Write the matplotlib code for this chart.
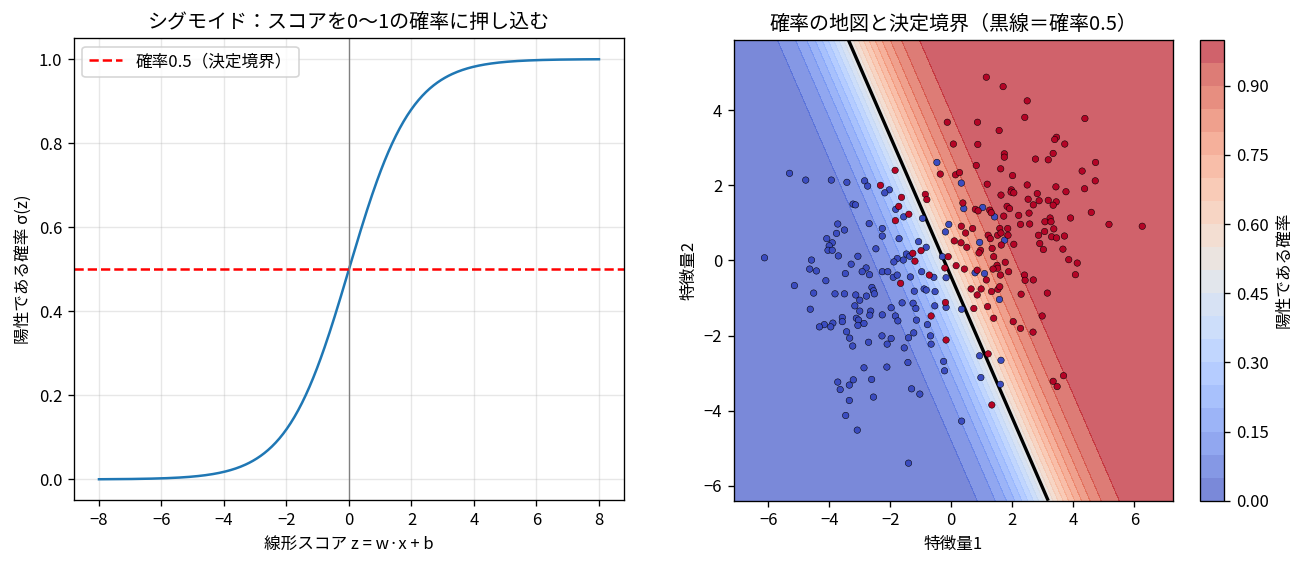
import numpy as np
import matplotlib
matplotlib.use("Agg")
import matplotlib.pyplot as plt

plt.rcParams['font.family'] = ['Noto Sans CJK JP', 'DejaVu Sans']

# ---- sigmoid panel ----
z_min, z_max = -8, 8
threshold = 0.5

# ---- logistic model ----
w1, w2, b0 = 1.265, 0.675, 0.30
levels = np.linspace(0, 1, 21)

# ---- class 0 (negative) points ----
neg_x = [-5.30, -4.77, -3.93, -3.42, -2.84, -2.74, -0.47, 0.33, -2.03, -2.18,
         -3.22, -3.14, -3.72, -2.69, -3.50, -3.76, -4.08, -3.90, -4.00, -4.04, -3.90, -2.26, -2.26, -2.47,
         -3.70, -3.06, -6.12, -4.58, -3.28, -4.64, -4.42, -2.79, -2.92, -3.47, -2.68, -2.26, -4.11, -5.14,
         -2.60, -2.55, -2.52, -4.51, -3.81, -3.50, -3.13, -2.78, -3.00, -3.16, -4.62, -3.00, -2.64, -2.67,
         -2.26, -3.57, -3.11, -3.04, -3.57, -3.88, -2.86, -4.16, -4.32, -3.95, -3.06, -3.43, -2.27, -3.33,
         -2.71, -3.23,
         -2.86, -3.72, -3.21, -2.61, -3.34, -3.64, -2.55, -3.34, -3.46, -3.08,
         -2.11, -1.54, -1.42, -0.66, -0.25, -0.22, -1.30, -1.03, 0.93, 1.63, 0.97, 1.61, 0.34, -1.40,
         -1.82, -1.56, -0.94, -1.71, -1.07, -0.82, -1.77, -1.88, -1.57, -1.47, -1.36, -0.29, -2.08, -1.90,
         -1.77, -1.34, -0.97, -0.57, -0.17, -1.21, -0.89, -0.82, -0.53, -1.61, -1.25, -1.16, -1.97, -0.17,
         -0.54, 0.34, -1.83, -1.75, -1.14, -0.78, -1.97, -1.40, -1.23, -0.68, -2.10,
         0.41, 1.03, 1.42, -0.08, -0.19, 0.93, 1.75, 0.78, 1.09, 1.58]
neg_y = [2.32, 2.14, 2.14, 2.08, 2.12, 1.98, 2.61, 2.06, 1.88, 1.80,
         1.50, 1.48, 0.97, 0.98, 0.81, 0.72, 0.58, 0.47, 0.39, 0.27, 0.27, 0.85, 0.65, 0.31,
         0.12, 0.11, 0.07, 0.01, -0.10, -0.23, -0.28, -0.20, -0.30, -0.35, -0.38, -0.30, -0.54, -0.67,
         -0.72, -0.81, -0.89, -0.87, -0.89, -0.89, -0.92, -0.95, -1.06, -1.21, -1.30, -1.35, -1.35, -1.46,
         -1.45, -1.52, -1.54, -1.59, -1.63, -1.67, -1.68, -1.71, -1.77, -1.77, -1.73, -1.90, -2.01, -2.07,
         -2.18, -2.28,
         -2.86, -3.24, -3.18, -3.17, -3.32, -3.44, -3.64, -3.73, -4.13, -4.52,
         -2.84, -2.33, -2.72, -2.23, -2.69, -2.94, -3.42, -3.56, -2.54, -2.66, -3.12, -3.30, -4.28, -5.40,
         1.36, 1.16, 1.12, 0.58, 0.50, 0.35, 0.05, -0.04, 0.01, 0.17, 0.11, 0.10, -0.30, -0.45,
         -0.39, -0.44, -0.30, -0.45, -0.46, -0.82, -0.76, -0.79, -0.83, -1.13, -1.14, -1.28, -1.26, -1.25,
         -1.21, -1.30, -1.48, -1.61, -1.59, -1.71, -2.08, -2.06, -1.93, -2.01, -2.23,
         1.38, 1.41, 1.16, 0.96, 0.76, 0.48, 0.54, -0.33, -0.35, -1.04]

# ---- class 1 (positive) points ----
pos_x = [-2.32,
         1.15, 1.70, 2.49, 2.41, -0.13, 0.86, 1.57, 0.07, 0.87, 1.74, 1.74, 0.82, 1.62, 2.01, -0.36, 0.14,
         0.27, 1.18, 2.49, 1.97, -1.84,
         4.38, 3.45, 3.39, 3.72, 3.34, 2.76, 3.18, 4.73, 4.29, 4.72, 3.43, 4.37, 3.76, 2.82,
         2.52, 2.88, 3.18, 3.44, 2.69, 3.34, 4.59, 2.55, 3.91, 3.24, 3.07, 3.27, 2.57, 5.17, 6.26, 3.36,
         3.06, 2.86, 3.71, 3.29, 3.45, 2.90, 3.02, 3.66, 3.85, 4.13, 4.07, 2.40, 2.42, 2.69, 3.15, 2.98, 2.68,
         3.68, 3.34, 3.47, 1.21, 1.33,
         -1.63, -0.85, -0.80, -1.72, -1.39, -1.83, -0.99, -1.26, -1.19, -0.10, -1.66, -0.72, -0.19, -0.66, -0.17,
         0.38, 0.79, 0.88, 1.26, 1.31, 1.63, 1.96, 2.05, 1.83, 1.91, 1.72, 2.21, 2.27, 0.33, 0.47, 0.70,
         0.10, 0.32, 0.51, 1.21, 1.28, 1.52, 1.59, 1.63, 1.85, 1.86, 0.96, 0.91, 1.34, 1.64, 2.05, 1.39,
         1.77, 1.50, 1.52, 1.37, -0.21, 0.16, 0.43, 0.85, 1.15, 1.61, 1.88, 0.65, 0.98, 0.85, 1.32, 1.53,
         1.59, 2.29, 1.19, 0.74, 1.39, 2.03, 2.27]
pos_y = [2.00,
         4.88, 4.63, 4.25, 3.81, 3.68, 3.68, 3.46, 3.10, 3.09, 2.84, 2.75, 2.53, 2.44, 2.26, 2.30, 2.28,
         2.34, 2.03, 2.01, 1.88, 2.40,
         3.78, 3.28, 3.22, 3.10, 2.85, 2.70, 2.68, 2.61, 2.38, 2.12, 1.96, 1.91, 1.83, 1.78,
         1.63, 1.59, 1.60, 1.56, 1.48, 1.47, 1.28, 1.26, 1.13, 1.13, 1.03, 1.03, 0.97, 0.96, 0.91, 0.84,
         0.77, 0.67, 0.65, 0.63, 0.60, 0.45, 0.29, 0.30, 0.02, -0.07, -0.38, -0.39, -0.53, -0.52, -0.87, -1.48, -1.91,
         -3.07, -3.22, -3.36, -2.49, -3.85,
         1.68, 1.76, 1.62, 1.44, 1.23, 1.06, 0.26, 0.19, -0.02, 0.10, -0.61, -0.39, -1.12, -1.48, -2.12,
         1.53, 1.36, 1.32, 1.34, 1.27, 1.74, 1.82, 1.80, 1.44, 1.38, 1.18, 1.20, 0.96, 0.91, 0.73, 0.85,
         0.52, 0.47, 0.35, 0.67, 0.58, 0.67, 0.85, 0.73, 0.85, 0.67, 0.27, 0.20, 0.32, 0.41, 0.43, 0.10,
         -0.05, -0.13, -0.21, -0.23, -0.20, -0.14, -0.23, -0.26, -0.52, -0.39, -0.30, -0.76, -0.76, -0.92, -0.83, -0.77,
         -0.70, -0.90, -1.23, -1.28, -1.54, -1.63, -1.81]

# ---------------------------------------------------------------
DPI = 120
fig = plt.figure(figsize=(1307 / DPI, 565 / DPI), dpi=DPI)

# Left: sigmoid
ax1 = fig.add_axes([0.0566, 0.1146, 0.4208, 0.8177])
z = np.linspace(z_min, z_max, 400)
ax1.plot(z, 1 / (1 + np.exp(-z)), color='#1f77b4', lw=1.5)
ax1.axhline(threshold, color='red', ls='--', lw=1.5, label='確率0.5（決定境界）')
ax1.axvline(0, color='gray', lw=0.8)
ax1.set_xticks(np.arange(-8, 9, 2))
ax1.grid(alpha=0.3)
ax1.legend(loc='upper left')
ax1.set_title('シグモイド：スコアを0〜1の確率に押し込む')
ax1.set_xlabel('線形スコア z = w·x + b')
ax1.set_ylabel('陽性である確率 σ(z)')

# Right: probability map
ax2 = fig.add_axes([0.5616, 0.1138, 0.3357, 0.8160])
cax = fig.add_axes([0.9182, 0.1138, 0.0184, 0.8160])

X = np.column_stack([neg_x + pos_x, neg_y + pos_y])
lab = np.array([0] * len(neg_x) + [1] * len(pos_x))
xs = np.linspace(X[:, 0].min() - 1, X[:, 0].max() + 1, 400)
ys = np.linspace(X[:, 1].min() - 1, X[:, 1].max() + 1, 400)
xx, yy = np.meshgrid(xs, ys)
prob = 1 / (1 + np.exp(-(w1 * xx + w2 * yy + b0)))
cs = ax2.contourf(xx, yy, prob, levels=levels, cmap='coolwarm', alpha=0.7)
ax2.contour(xx, yy, prob, levels=[0.5], colors='k', linewidths=2)
ax2.scatter(X[:, 0], X[:, 1], c=lab, cmap='coolwarm', s=15,
            edgecolors='k', linewidths=0.3, zorder=3)
ax2.set_title('確率の地図と決定境界（黒線＝確率0.5）')
ax2.set_xlabel('特徴量1')
ax2.set_ylabel('特徴量2')
cb = fig.colorbar(cs, cax=cax)
cb.set_label('陽性である確率')

fig.savefig('out.png', dpi=DPI)
